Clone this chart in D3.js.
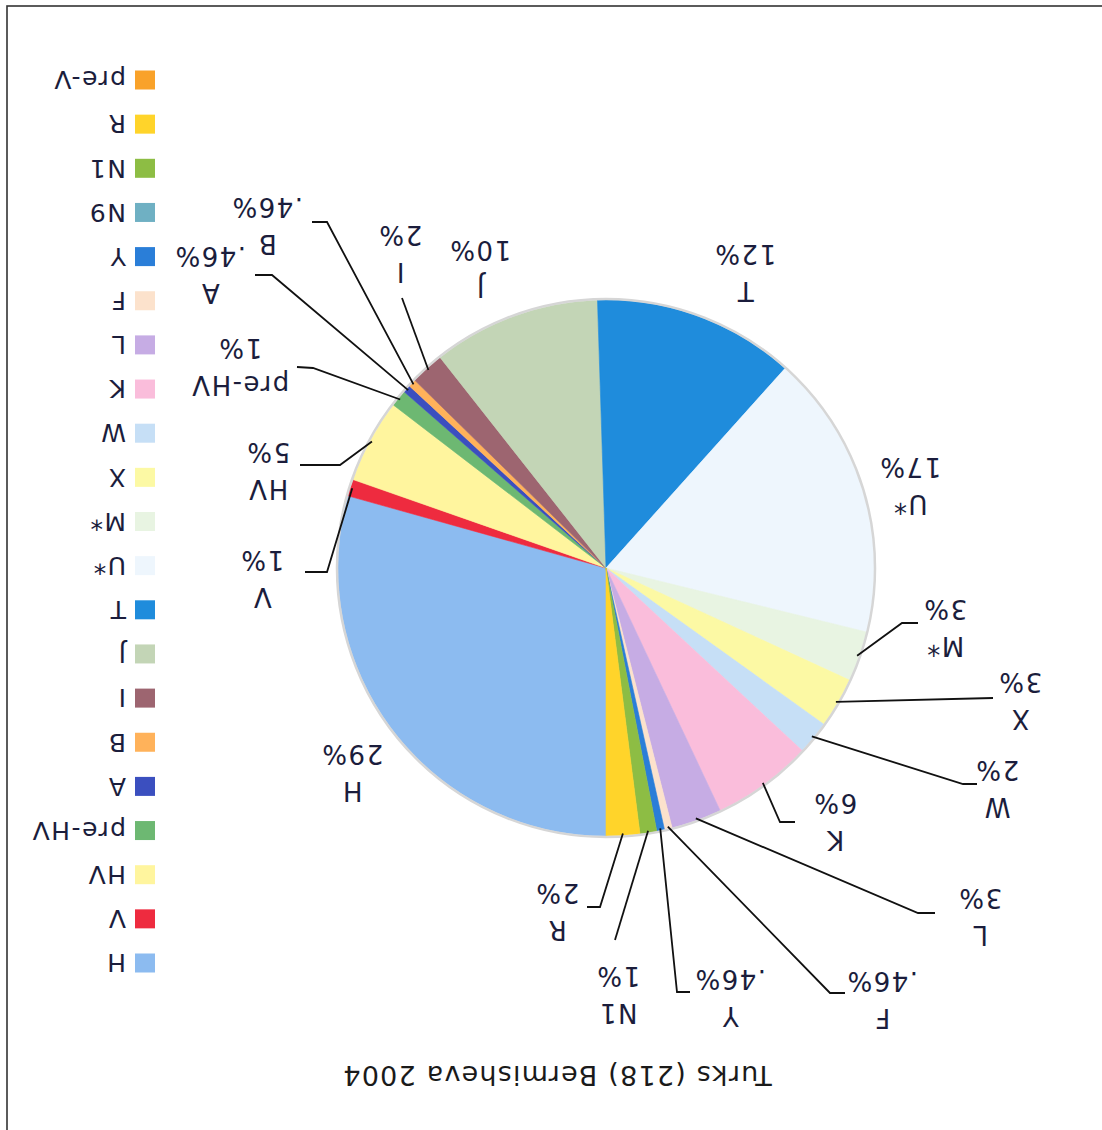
<!DOCTYPE html>
<html>
<head>
<meta charset="utf-8">
<script src="https://cdn.jsdelivr.net/npm/d3@7"></script>
<style>
  html, body { margin: 0; padding: 0; background: #fff; }
  svg { display: block; }
  text { font-family: "DejaVu Sans", Verdana, sans-serif; }
</style>
</head>
<body>
<svg id="chart" width="1102" height="1130"></svg>
<script>
// Haplogroup shares (%) for the Turks sample, Bermisheva 2004
const categories = ["H", "V", "HV", "pre-HV", "A", "B", "I", "J", "T", "U*", "M*", "X", "W", "K", "L", "F", "Y", "N9", "N1", "R", "pre-V"];
const shares = [29, 1, 5, 1, 0.46, 0.46, 2, 10, 12, 17, 3, 3, 2, 6, 3, 0.46, 0.46, 0, 1, 2, 0];
const colors = ["#8cbbf0", "#ee2b3f", "#fff59e", "#6db872", "#3b4fbf", "#ffb25a", "#9d6570", "#c3d5b6",
                "#1f8cdc", "#eef6fd", "#e8f4e2", "#fcf9a4", "#c6dff6", "#fabddb", "#c6ace4", "#fce2cc",
                "#2a7ed8", "#6fb0c3", "#8dbd44", "#ffd42a", "#f9a22a"];
const title = "Turks (218) Bermisheva 2004";

// Hand-placed data-label positions and leader-line bends (chart coordinates)
const labelLayout = {
  "T":      { at: [357, 857] },
  "U*":     { at: [192, 644] },
  "M*":     { at: [157, 502], bend: [200, 507], end: [184, 507] },
  "X":      { at: [82, 429],  bend: [109, 432] },
  "W":      { at: [105, 341], bend: [139, 346], end: [125, 346] },
  "K":      { at: [267, 308], bend: [322, 308], end: [307, 308] },
  "L":      { at: [122, 213], bend: [184, 217], end: [167, 217] },
  "F":      { at: [220, 130], bend: [272, 137], end: [257, 137] },
  "Y":      { at: [372, 132], bend: [425, 138], end: [412, 138] },
  "N1":     { at: [484, 135], bend: [487, 190] },
  "R":      { at: [545, 218], bend: [502, 223], end: [515, 223] },
  "H":      { at: [750, 357] },
  "V":      { at: [840, 551], bend: [775, 558], end: [797, 558] },
  "HV":     { at: [834, 659], bend: [762, 665], end: [802, 665] },
  "pre-HV": { at: [862, 763], bend: [789, 762], end: [805, 763] },
  "A":      { at: [892, 855], bend: [830, 855], end: [847, 855] },
  "B":      { at: [835, 904], bend: [775, 908], end: [790, 908] },
  "I":      { at: [702, 876], bend: [700, 832] },
  "J":      { at: [622, 861] }
};

const W = 1102, H = 1130;
const cx = 496, cy = 562, R = 268;

const svg = d3.select("#chart");
svg.append("rect").attr("width", W).attr("height", H).attr("fill", "#fff");

// The whole chart sheet is turned half a revolution on the page
const sheet = svg.append("g").attr("transform", `rotate(180 ${W / 2} ${H / 2})`);

// chart frame
sheet.append("rect")
  .attr("x", -10).attr("y", -10)
  .attr("width", 1105).attr("height", 1134)
  .attr("fill", "none").attr("stroke", "#333").attr("stroke-width", 1.6);

const data = categories.map((c, i) => ({ name: c, value: shares[i], color: colors[i] }));

const pie = d3.pie().sort(null).value(d => d.value).startAngle(0).endAngle(2 * Math.PI);
const arcs = pie(data);
const arc = d3.arc().innerRadius(0).outerRadius(R);

const plot = sheet.append("g").attr("transform", `translate(${cx},${cy})`);

plot.selectAll("path.slice")
  .data(arcs.filter(a => a.data.value > 0))
  .join("path")
  .attr("class", "slice")
  .attr("d", arc)
  .attr("fill", d => d.data.color)
  .attr("stroke", d => d.data.color)
  .attr("stroke-width", 0.6);

// soft rim around the pie
plot.append("circle").attr("r", R + 1).attr("fill", "none")
  .attr("stroke", "#d6d6d6").attr("stroke-width", 2.5);

const fmt = v => (v < 1 ? String(v).replace(/^0/, "") : String(v)) + "%";

// leader lines
const leaders = sheet.append("g").attr("fill", "none").attr("stroke", "#111").attr("stroke-width", 1.8);
arcs.forEach(a => {
  const lay = labelLayout[a.data.name];
  if (!lay || !lay.bend) return;
  const mid = (a.startAngle + a.endAngle) / 2;
  const start = [cx + (R - 2) * Math.sin(mid), cy - (R - 2) * Math.cos(mid)];
  const pts = [start, lay.bend];
  if (lay.end) pts.push(lay.end);
  leaders.append("path").attr("d", d3.line()(pts));
});

// data labels: category name above its share
const labels = sheet.append("g").attr("fill", "#1b1d3c").attr("font-size", 26)
  .attr("text-anchor", "middle").attr("letter-spacing", 1.5);
arcs.forEach(a => {
  const lay = labelLayout[a.data.name];
  if (!lay || a.data.value <= 0) return;
  const [x, y] = lay.at;
  labels.append("text").attr("x", x).attr("y", y - 18.5).attr("dy", "0.35em").text(a.data.name);
  labels.append("text").attr("x", x).attr("y", y + 18.5).attr("dy", "0.35em").text(fmt(a.data.value));
});

// legend
const legend = sheet.append("g").attr("transform", "translate(947,167)");
const rowStep = 44.15;
const item = legend.selectAll("g").data(data).join("g")
  .attr("transform", (d, i) => `translate(0,${i * rowStep})`);
item.append("rect").attr("x", 0).attr("y", -9.5).attr("width", 20).attr("height", 19)
  .attr("fill", d => d.color);
item.append("text").attr("x", 29).attr("dy", "0.35em").attr("font-size", 25)
  .attr("fill", "#1b1d3c").attr("letter-spacing", 1.5).text(d => d.name);

// title
sheet.append("text").attr("x", 545).attr("y", 55).attr("dy", "0.35em")
  .attr("text-anchor", "middle").attr("font-size", 27).attr("letter-spacing", 1.2)
  .attr("fill", "#1a1a1a").text(title);
</script>
</body>
</html>
